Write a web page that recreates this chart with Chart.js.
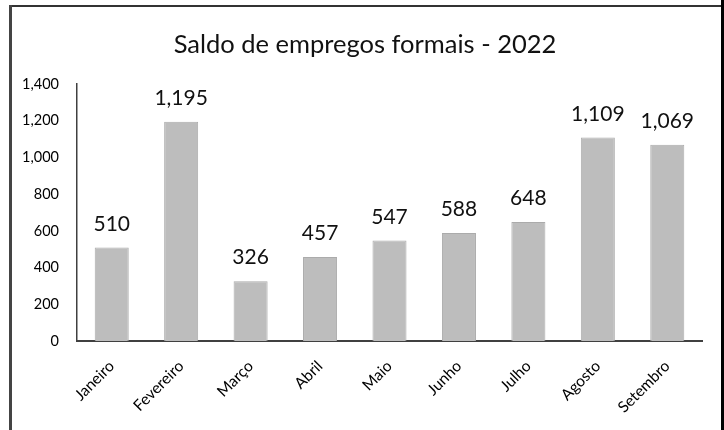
<!DOCTYPE html>
<html>
<head>
<meta charset="utf-8">
<script src="https://cdn.jsdelivr.net/npm/chart.js@4"></script>
<style>
  html, body { margin: 0; padding: 0; background: #fff; }
  #wrap { position: relative; width: 724px; height: 430px; overflow: hidden; }
  #chart { position: absolute; left: 0; top: 0; }
  /* picture frame around the chart */
  .frameTop { position: absolute; left: 9px; top: 5px; width: 712px; height: 2px; background: #333; }
  .frameLeft { position: absolute; left: 9px; top: 5px; width: 3px; height: 425px; background: #444; }
  .frameRight { position: absolute; left: 721px; top: 0; width: 3px; height: 430px; background: #000; }
</style>
</head>
<body>
<div id="wrap">
  <canvas id="chart" width="724" height="430"></canvas>
  <div class="frameTop"></div>
  <div class="frameLeft"></div>
  <div class="frameRight"></div>
</div>
<script>
// Chart data
const chartTitle = 'Saldo de empregos formais - 2022';
const months = ['Janeiro', 'Fevereiro', 'Março', 'Abril', 'Maio', 'Junho', 'Julho', 'Agosto', 'Setembro'];
const saldo = [510, 1195, 326, 457, 547, 588, 648, 1109, 1069];
const yTicks = [0, 200, 400, 600, 800, 1000, 1200, 1400];

const fontFamily = 'Lato, "Liberation Sans", sans-serif';

// title drawn by hand so it sits centred on the frame, not the plot
const titlePlugin = {
    id: 'frameTitle',
    afterDraw(chart) {
        const ctx = chart.ctx;
        ctx.save();
        ctx.font = '25.5px ' + fontFamily;
        ctx.fillStyle = '#111';
        ctx.textAlign = 'center';
        ctx.textBaseline = 'middle';
        ctx.fillText(chartTitle, 365, 45);
        ctx.restore();
    }
};

// draws the value above each bar
const valueLabels = {
    id: 'valueLabels',
    afterDatasetsDraw(chart) {
        const ctx = chart.ctx;
        const meta = chart.getDatasetMeta(0);
        ctx.save();
        ctx.font = '21px ' + fontFamily;
        ctx.fillStyle = '#111';
        ctx.textAlign = 'center';
        ctx.textBaseline = 'bottom';
        meta.data.forEach((bar, i) => {
            ctx.fillText(saldo[i].toLocaleString('en-US'), bar.x, bar.y - 13);
        });
        ctx.restore();
    }
};

const ctx = document.getElementById('chart').getContext('2d');
new Chart(ctx, {
    type: 'bar',
    data: {
        labels: months,
        datasets: [{
            data: saldo,
            backgroundColor: '#bdbdbd',
            borderColor: '#ababab',
            borderWidth: 1,
            barPercentage: 0.49,
            categoryPercentage: 1
        }]
    },
    options: {
        responsive: false,
        animation: false,
        layout: { padding: { left: 0, right: 22, top: 84, bottom: 0 } },
        plugins: {
            legend: { display: false },
            tooltip: { enabled: false },
            title: { display: false }
        },
        scales: {
            x: {
                grid: { display: false },
                border: { display: true, color: '#404040', width: 2 },
                afterFit: (scale) => { scale.height = 89; },
                ticks: {
                    color: '#000',
                    font: { family: fontFamily, size: 15.5 },
                    minRotation: 45,
                    maxRotation: 45,
                    padding: 8
                }
            },
            y: {
                min: 0,
                max: 1400,
                grid: { display: false },
                border: { display: true, color: '#404040', width: 1.5 },
                afterFit: (scale) => { scale.width = 77; },
                afterBuildTicks: (scale) => { scale.ticks = yTicks.map(v => ({ value: v })); },
                ticks: {
                    color: '#000',
                    font: { family: fontFamily, size: 14.5 },
                    padding: 10,
                    callback: (v) => v.toLocaleString('en-US')
                }
            }
        }
    },
    plugins: [valueLabels, titlePlugin]
});
</script>
</body>
</html>
